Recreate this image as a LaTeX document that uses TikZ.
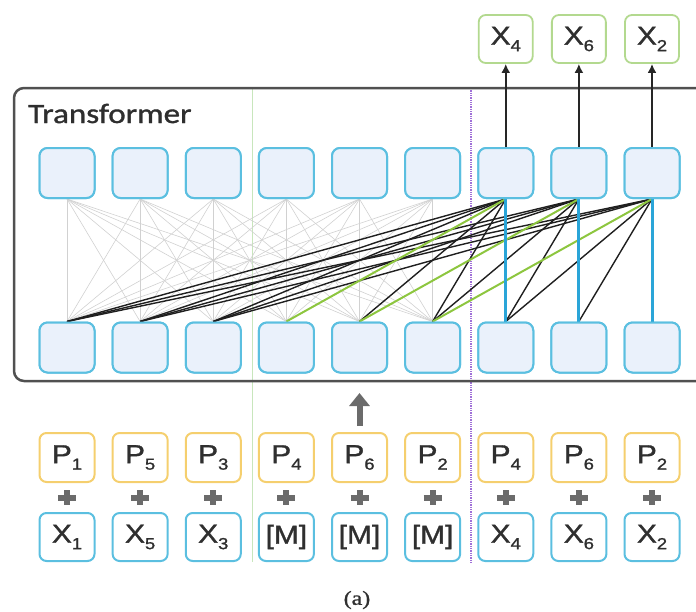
\documentclass[tikz,border=0pt]{standalone}
\usepackage{fontspec}
\setmainfont[FakeStretch=1.15,FakeBold=1.2]{Liberation Sans}
\newfontfamily\trfont[FakeStretch=1.18,FakeBold=1.2]{Carlito}
\newfontfamily\capfont[FakeStretch=1.2,FakeBold=1]{Liberation Serif}
\usetikzlibrary{arrows.meta,calc}
\definecolor{boxblue}{HTML}{5BBFE0}
\definecolor{boxfill}{HTML}{EAF1FB}
\definecolor{pyellow}{HTML}{F5CF6E}
\definecolor{ogreen}{HTML}{B3D98F}
\definecolor{lgreen}{HTML}{8DC63F}
\definecolor{vblue}{HTML}{2AA5D8}
\definecolor{tgray}{HTML}{2F2F2F}
\definecolor{framegray}{HTML}{505050}
\definecolor{sepg}{HTML}{C8E6BC}
\definecolor{sepp}{HTML}{A070D8}
\newcommand\lab{\fontsize{26}{26}\selectfont}
\newcommand\tk[2]{#1\raisebox{-6.5pt}{\fontsize{16}{16}\selectfont #2}}
\begin{document}
\begin{tikzpicture}[x=1pt,y=-1pt,
  cell/.style={draw=boxblue, fill=boxfill, line width=2pt, rounded corners=8pt, minimum width=55pt, minimum height=50pt, inner sep=0pt},
  outbox/.style={draw=ogreen, fill=white, line width=1.8pt, rounded corners=7pt, minimum width=54pt, minimum height=48pt, inner sep=0pt, font=\lab, text=tgray},
  posbox/.style={draw=pyellow, fill=white, line width=2pt, rounded corners=7pt, minimum width=55pt, minimum height=49pt, inner sep=0pt, font=\lab, text=tgray},
  tokbox/.style={draw=boxblue, fill=white, line width=2pt, rounded corners=7pt, minimum width=55pt, minimum height=48pt, inner sep=0pt, font=\lab, text=tgray},
  faint/.style={draw=black!18, line width=0.6pt},
  strong/.style={draw=black!88, line width=1.4pt},
  greenl/.style={draw=lgreen, line width=2pt},
  selfl/.style={draw=vblue, line width=3pt},
  outarrow/.style={draw=black!85, line width=2pt, -{Latex[length=9pt,width=9pt]}},
  uparrow/.style={draw=black!58, line width=6pt, -{Triangle[length=13pt,width=20pt]}},
  plusst/.style={draw=black!58, line width=6pt},
  frameline/.style={draw=framegray, line width=2.5pt, rounded corners=10pt}
]
\useasboundingbox (0,0) rectangle (696,611);
% separators
\coordinate (gT) at (252,88); \coordinate (gB) at (252,562);
\draw[draw=sepg, line width=1pt] (gT) -- (gB);
\coordinate (vT) at (471,88); \coordinate (vB) at (471,562);
\draw[draw=sepp, line width=1.3pt, densely dotted] (vT) -- (vB);
% frame
\begin{scope}
\clip (0,0) rectangle (696,611);
\draw[frameline] (14,88) rectangle (740,381);
\end{scope}
\node[anchor=base west, inner sep=0pt, text=black!82] (title) at (28,123) {\trfont\fontsize{28}{28}\selectfont Transformer};
% cells
\foreach \n in {1,...,9}{
  \pgfmathsetmacro\cx{67+73.125*(\n-1)}
  \node[cell] (t\n) at (\cx,173) {};
  \node[cell] (b\n) at (\cx,347.5) {};
}
% faint full attention among first six
\foreach \i in {1,...,6}{
  \foreach \j in {1,...,6}{
    \draw[faint] (t\i.south) -- (b\j.north);
  }
}
% predicted tokens
\foreach \k in {7,8,9}{
  \foreach \j in {1,2,3}{
    \draw[strong] (t\k.south) -- (b\j.north);
  }
}
\draw[strong] (t7.south) -- (b5.north);
\draw[strong] (t7.south) -- (b6.north);
\draw[strong] (t8.south) -- (b6.north);
\draw[strong] (t8.south) -- (b7.north);
\draw[strong] (t9.south) -- (b7.north);
\draw[strong] (t9.south) -- (b8.north);
\draw[greenl] (t7.south) -- (b4.north);
\draw[greenl] (t8.south) -- (b5.north);
\draw[greenl] (t9.south) -- (b6.north);
\draw[selfl] (t7.south) -- (b7.north);
\draw[selfl] (t8.south) -- (b8.north);
\draw[selfl] (t9.south) -- (b9.north);
% redraw cells on top
\foreach \n in {1,...,9}{
  \pgfmathsetmacro\cx{67+73.125*(\n-1)}
  \node[cell] at (\cx,173) {};
  \node[cell] at (\cx,347.5) {};
}
% outputs
\node[outbox] (o7) at (t7|-0,39) {\tk{X}{4}};
\node[outbox] (o8) at (t8|-0,39) {\tk{X}{6}};
\node[outbox] (o9) at (t9|-0,39) {\tk{X}{2}};
\draw[outarrow] (t7.north) -- (o7.south);
\draw[outarrow] (t8.north) -- (o8.south);
\draw[outarrow] (t9.north) -- (o9.south);
% inputs
\foreach \n/\p/\tok in {1/1/{\tk{X}{1}},2/5/{\tk{X}{5}},3/3/{\tk{X}{3}},4/4/{[M]},5/6/{[M]},6/2/{[M]},7/4/{\tk{X}{4}},8/6/{\tk{X}{6}},9/2/{\tk{X}{2}}}{
  \pgfmathsetmacro\cx{67+73.125*(\n-1)}
  \node[posbox] (p\n) at (\cx,457.5) {\tk{P}{\p}};
  \node[tokbox] (x\n) at (\cx,537) {\tok};
  \coordinate (pl\n) at ($(p\n.south)!0.5!(x\n.north)$);
  \draw[plusst] ($(pl\n)+(-9,0)$) -- ($(pl\n)+(9,0)$);
  \draw[plusst] ($(pl\n)+(0,-7.5)$) -- ($(pl\n)+(0,7.5)$);
}
\coordinate (ua) at ($(p5.north)+(0,-6)$);
\coordinate (ub) at ($(p5.north)+(0,-39)$);
\draw[uparrow] (ua) -- (ub);
\node[text=tgray, inner sep=0pt] (cap) at (357,600) {\capfont\fontsize{20}{20}\selectfont (a)};
\end{tikzpicture}
\end{document}
